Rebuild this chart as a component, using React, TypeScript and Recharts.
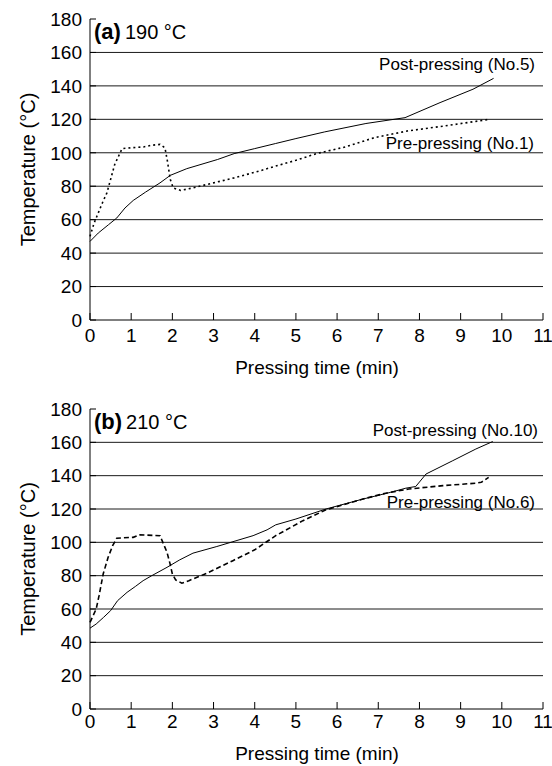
import { LineChart, Line, XAxis, YAxis, ReferenceLine } from 'recharts';

const timeTicks = [0, 1, 2, 3, 4, 5, 6, 7, 8, 9, 10, 11];
const tempTicks = [0, 20, 40, 60, 80, 100, 120, 140, 160, 180];
const gridTemps = [20, 40, 60, 80, 100, 120, 140, 160];

// (a) 190 °C  — [time (min), temperature (°C)]
const postA: [number, number][] = [
	[0, 47], [0.2, 52], [0.45, 57], [0.65, 61], [0.85, 67], [1.05, 71.5], [1.35, 76.5],
	[1.7, 82], [1.95, 86.5], [2.35, 90.5], [3.1, 96], [3.5, 99.5], [4.0, 102.5], [4.5, 105.5],
	[5.0, 108.5], [5.7, 112.5], [6.7, 117.5], [7.65, 121], [8.5, 130], [9.3, 138], [9.8, 144.5],
];
const preA: [number, number][] = [
	[0, 50], [0.1, 58], [0.2, 64], [0.3, 70], [0.41, 76], [0.6, 93], [0.78, 102.5], [1.0, 103],
	[1.3, 103.5], [1.5, 104.5], [1.7, 105], [1.82, 103], [1.88, 95], [1.95, 84], [2.02, 79],
	[2.2, 77.5], [2.5, 79], [3.0, 82], [3.5, 85], [4.1, 89], [4.5, 92], [5.0, 95.5], [5.5, 99.5],
	[6.2, 103.5], [6.9, 109], [7.7, 113], [8.6, 116], [9.7, 120],
];

// (b) 210 °C
const postB: [number, number][] = [
	[0, 48.5], [0.15, 51], [0.33, 55], [0.5, 59], [0.67, 65], [0.9, 70], [1.1, 73.5], [1.29, 77],
	[1.5, 80], [1.87, 85], [2.18, 89.5], [2.5, 93.5], [3.08, 97.5], [3.96, 104], [4.3, 107.5],
	[4.51, 110.5], [5.0, 114], [5.73, 120], [6.63, 126], [7.3, 130], [7.67, 132.5], [7.91, 133.5],
	[8.16, 141], [8.81, 149], [9.37, 156], [9.78, 160.5],
];
const preB: [number, number][] = [
	[0, 52], [0.15, 60], [0.22, 68], [0.32, 81], [0.44, 91], [0.55, 98], [0.65, 102.5], [1.05, 103],
	[1.2, 104.5], [1.7, 104], [1.87, 94], [1.94, 87.5], [2.0, 81], [2.08, 77.5], [2.23, 75.5],
	[2.4, 77], [2.84, 81.5], [3.47, 89], [4.0, 95.5], [4.51, 104], [5.17, 113], [5.73, 119.5],
	[6.63, 126], [7.18, 129.5], [7.74, 132], [8.57, 134], [9.37, 135.5], [9.5, 136], [9.68, 139],
];

const toRows = (pts: [number, number][]) => pts.map(([t, T]) => ({ t, T }));

const W = 552;
const H = 383;
const font = '"Liberation Sans", Arial, sans-serif';

interface PanelProps {
	top: number;
	plotTop: number;
	axisH: number;
	tickGap: number;
	tag: string;
	temp: string;
	post: [number, number][];
	pre: [number, number][];
	preDash: string;
	postLabel: string;
	preLabel: string;
	postY: number;
	preY: number;
	postX: number;
	preX: number;
	tagY: number;
	titleY: number;
}

const Panel = (p: PanelProps) => {
	const plotBottom = H - p.axisH;
	return (
		<div style={{ position: 'absolute', left: 0, top: p.top, width: W, height: H }}>
			<LineChart width={W} height={H} margin={{ top: p.plotTop, right: 9, left: 0, bottom: 0 }}>
				<XAxis
					type="number"
					dataKey="t"
					domain={[0, 11]}
					ticks={timeTicks}
					interval={0}
					height={p.axisH}
					stroke="#000"
					tickSize={-7}
					tickMargin={p.tickGap}
					tick={{ fill: '#000', fontSize: 19 }}
				/>
				<YAxis
					type="number"
					domain={[0, 180]}
					ticks={tempTicks}
					interval={0}
					width={90}
					stroke="#000"
					tickSize={-6}
					tickMargin={14}
					tick={{ fill: '#000', fontSize: 19 }}
				/>
				{gridTemps.map((v) => (
					<ReferenceLine key={v} y={v} stroke="#1a1a1a" strokeWidth={1} />
				))}
				<Line
					data={toRows(p.pre)}
					dataKey="T"
					stroke="#000"
					strokeWidth={1.6}
					strokeDasharray={p.preDash}
					dot={false}
					type="linear"
					isAnimationActive={false}
				/>
				<Line
					data={toRows(p.post)}
					dataKey="T"
					stroke="#000"
					strokeWidth={1}
					dot={false}
					type="linear"
					isAnimationActive={false}
				/>
			</LineChart>
			<svg
				width={W}
				height={H}
				style={{ position: 'absolute', left: 0, top: 0, pointerEvents: 'none' }}
			>
				<text x={94} y={p.tagY} fill="#000">
					<tspan fontWeight="bold" fontSize={22}>{p.tag}</tspan>
					<tspan dx={4} fontSize={20}>{p.temp}</tspan>
				</text>
				<text
					transform={`translate(35,${(p.plotTop + plotBottom) / 2}) rotate(-90)`}
					textAnchor="middle"
					fontSize={20}
					fill="#000"
				>
					Temperature (°C)
				</text>
				<text x={317} y={p.titleY} textAnchor="middle" fontSize={19} fill="#000">
					Pressing time (min)
				</text>
				<text x={p.postX} y={p.postY} textAnchor="end" fontSize={17} fill="#000">
					{p.postLabel}
				</text>
				<text x={p.preX} y={p.preY} textAnchor="end" fontSize={17} fill="#000">
					{p.preLabel}
				</text>
			</svg>
		</div>
	);
};

export default function App() {
	return (
		<div
			style={{
				position: 'absolute',
				left: 0,
				top: 0,
				width: W,
				height: 766,
				background: '#fff',
				fontFamily: font,
			}}
		>
			<Panel
				top={0}
				plotTop={19}
				axisH={63}
				tickGap={16}
				tag="(a)"
				temp="190 °C"
				post={postA}
				pre={preA}
				preDash="2 3"
				postLabel="Post-pressing (No.5)"
				preLabel="Pre-pressing (No.1)"
				postX={535}
				postY={70}
				preX={534}
				preY={149}
				tagY={39}
				titleY={374}
			/>
			<Panel
				top={383}
				plotTop={26}
				axisH={57}
				tickGap={13}
				tag="(b)"
				temp="210 °C"
				post={postB}
				pre={preB}
				preDash="5 3"
				postLabel="Post-pressing (No.10)"
				preLabel="Pre-pressing (No.6)"
				postX={538}
				postY={53}
				preX={535}
				preY={125}
				tagY={46}
				titleY={377}
			/>
		</div>
	);
}
